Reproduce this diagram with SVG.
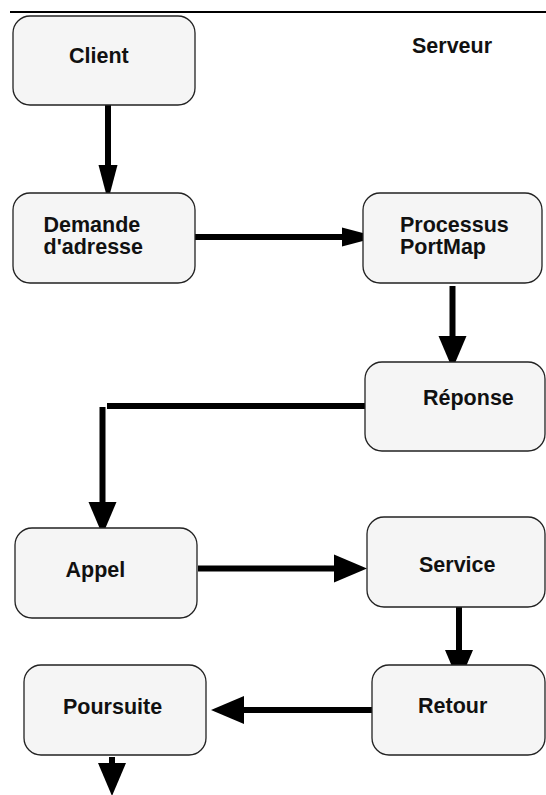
<svg xmlns="http://www.w3.org/2000/svg" width="546" height="795" viewBox="0 0 546 795">
  <style>
    .box { fill: #f5f5f5; stroke: #222; stroke-width: 1.3; }
    .lbl { font-family: "Liberation Sans", Arial, Helvetica, sans-serif; font-weight: bold; font-size: 21.5px; fill: #111; }
    .wire { fill: none; stroke: #000; stroke-width: 6; stroke-linecap: butt; }
    .rule { stroke: #000; stroke-width: 1.8; }
  </style>
  <defs>
    <!-- arrowheads start at the end of the line and point forward -->
    <marker id="head-narrow" markerUnits="userSpaceOnUse" markerWidth="36" markerHeight="19" refX="0" refY="9.5" orient="auto" overflow="visible">
      <path d="M0,0 L36,9.5 L0,19 Z" fill="#000"/>
    </marker>
    <marker id="head-wide" markerUnits="userSpaceOnUse" markerWidth="33" markerHeight="28" refX="0" refY="14" orient="auto" overflow="visible">
      <path d="M0,0 L33,14 L0,28 Z" fill="#000"/>
    </marker>
  </defs>

  <rect width="546" height="795" fill="#fff"/>

  <!-- header rule -->
  <line class="rule" x1="10" y1="12" x2="546" y2="12"/>

  <g id="serveur-title">
    <text class="lbl" x="412" y="53">Serveur</text>
  </g>

  <g id="connectors">
    <path class="wire" d="M108,105 V165" marker-end="url(#head-narrow)"/>
    <path class="wire" d="M195,237 H342" marker-end="url(#head-narrow)"/>
    <path class="wire" d="M452.5,286 V336" marker-end="url(#head-wide)"/>
    <path class="wire" d="M366,406 H107 M102.5,407 V502" marker-end="url(#head-wide)"/>
    <path class="wire" d="M198,568.5 H334" marker-end="url(#head-wide)"/>
    <path class="wire" d="M459,603 V650" marker-end="url(#head-wide)"/>
    <path class="wire" d="M372,710 H244" marker-end="url(#head-wide)"/>
    <path class="wire" d="M112,757 V763" marker-end="url(#head-wide)"/>
  </g>

  <g id="client">
    <rect class="box" x="13" y="16" width="182" height="89" rx="17"/>
    <text class="lbl" x="69" y="63">Client</text>
  </g>

  <g id="demande">
    <rect class="box" x="13" y="193" width="182" height="90" rx="17"/>
    <text class="lbl" x="43.5" y="232">Demande</text>
    <text class="lbl" x="43.5" y="254">d'adresse</text>
  </g>

  <g id="portmap">
    <rect class="box" x="363" y="193" width="179" height="90" rx="17"/>
    <text class="lbl" x="400" y="232">Processus</text>
    <text class="lbl" x="400" y="254">PortMap</text>
  </g>

  <g id="reponse">
    <rect class="box" x="365" y="362" width="180" height="89" rx="17"/>
    <text class="lbl" x="423" y="405">Réponse</text>
  </g>

  <g id="appel">
    <rect class="box" x="15" y="528" width="182" height="90" rx="17"/>
    <text class="lbl" x="65.5" y="577">Appel</text>
  </g>

  <g id="service">
    <rect class="box" x="367" y="517" width="178" height="90" rx="17"/>
    <text class="lbl" x="419" y="572">Service</text>
  </g>

  <g id="retour">
    <rect class="box" x="372" y="665" width="173" height="90" rx="17"/>
    <text class="lbl" x="418" y="713">Retour</text>
  </g>

  <g id="poursuite">
    <rect class="box" x="24" y="665" width="182" height="90" rx="17"/>
    <text class="lbl" x="63" y="714">Poursuite</text>
  </g>
</svg>
